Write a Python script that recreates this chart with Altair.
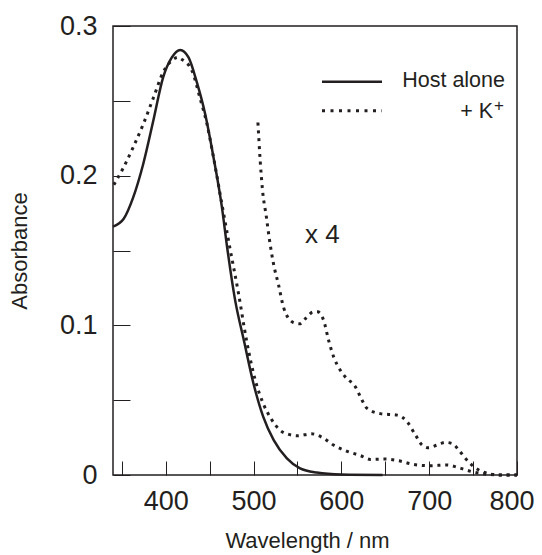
import altair as alt
import pandas as pd

# ---- data ----
host_wl = [340, 352, 363, 374.5, 386, 397, 407, 416.5, 426, 435, 445, 454.5, 464, 470,
           479, 489, 500, 511, 523, 538, 553, 572, 600, 647]
host_abs = [0.166, 0.171, 0.1855, 0.208, 0.237, 0.2655, 0.279, 0.284, 0.279, 0.2633, 0.241,
            0.212, 0.179, 0.152, 0.117, 0.09, 0.061, 0.039, 0.0233, 0.0111, 0.0044, 0.0016,
            0.0003, 0.0]

k_wl = [341, 352, 363, 374.5, 386, 397, 409, 413.5, 418, 430, 439, 447, 454.5, 464, 473, 483,
        492, 502, 511, 521, 530, 540, 550, 566, 580, 591, 606, 622, 633, 650, 667, 682, 701,
        720, 736, 749, 766, 785, 800]
k_abs = [0.194, 0.2055, 0.219, 0.2345, 0.252, 0.269, 0.2778, 0.279, 0.2778, 0.27, 0.252,
         0.2345, 0.212, 0.181, 0.152, 0.121, 0.09, 0.0633, 0.0478, 0.0367, 0.03, 0.0271,
         0.0262, 0.0275, 0.0245, 0.02, 0.016, 0.0129, 0.0104, 0.0107, 0.0093, 0.0071, 0.0062,
         0.0067, 0.0044, 0.0022, 0.0005, 0.0, 0.0]

k4_wl = [505, 507.6, 510.3, 514.5, 518.2, 522.8, 528.5, 534.2, 545, 552.5, 560, 568.4, 573,
         580, 585.5, 591.2, 598.8, 604.5, 616, 623.6, 629.3, 644.4, 663.5, 675, 684.4, 692,
         699.5, 709, 718.6, 726.2, 733.7, 741.4, 750.8, 764.2, 781, 800]
k4_abs = [0.2355, 0.21, 0.19, 0.173, 0.157, 0.141, 0.127, 0.112, 0.102, 0.101, 0.105, 0.109,
          0.109, 0.103, 0.09, 0.079, 0.07, 0.0655, 0.0589, 0.05, 0.0445, 0.041, 0.04, 0.0355,
          0.0267, 0.02, 0.0182, 0.02, 0.0218, 0.021, 0.0167, 0.011, 0.0055, 0.0015, 0.0, 0.0]

x_ticks = [350, 400, 450, 500, 550, 600, 650, 700, 750, 800]
y_ticks = [0, 0.05, 0.1, 0.15, 0.2, 0.25, 0.3]

legend_labels = ["Host alone", "+ K"]
annot = "x 4"

INK = "#231f20"
FONT = "Liberation Sans"

host_df = pd.DataFrame({"wl": host_wl, "A": host_abs})
k_df = pd.DataFrame({"wl": k_wl, "A": k_abs})
k4_df = pd.DataFrame({"wl": k4_wl, "A": k4_abs})
one = pd.DataFrame({"i": [0]})

xscale = alt.Scale(domain=[340, 800], nice=False, zero=False)
yscale = alt.Scale(domain=[0, 0.3], nice=False)

xaxis = alt.Axis(
    values=x_ticks, tickSize=14, offset=-14, domain=False, grid=False,
    tickColor=INK, tickWidth=1,
    labelExpr="datum.value % 100 == 0 ? format(datum.value, 'd') : ''",
    labelFont=FONT, labelFontSize=27, labelColor=INK, labelPadding=13,
    labelOffset={"condition": {"test": "datum.value == 800", "value": -5.5}, "value": 0},
    labelFlush=False, labelOverlap=False,
    title="Wavelength / nm", titleFont=FONT, titleFontSize=22, titleFontWeight="normal",
    titleColor=INK, titleX=194, titleY=86, titleBaseline="alphabetic", titleAlign="center",
)
yaxis = alt.Axis(
    values=y_ticks, tickSize=17, offset=-17, domain=False, grid=False,
    tickColor=INK, tickWidth=1,
    labelExpr="datum.value == 0 ? '0' : (abs(datum.value*10 - round(datum.value*10)) < 1e-6 ? format(datum.value, '.1f') : '')",
    labelFont=FONT, labelFontSize=27, labelColor=INK, labelPadding=16,
    labelFlush=False, labelOverlap=False,
    title="Absorbance", titleFont=FONT, titleFontSize=22, titleFontWeight="normal",
    titleColor=INK, titleX=-110.5, titleBaseline="middle", titleAlign="center",
)

host = alt.Chart(host_df).mark_line(color=INK, strokeWidth=2.5, interpolate="monotone").encode(
    x=alt.X("wl:Q", scale=xscale, axis=xaxis),
    y=alt.Y("A:Q", scale=yscale, axis=yaxis),
)
dot = dict(color=INK, strokeWidth=3, strokeDash=[3, 4.8], strokeCap="butt", interpolate="monotone")
kline = alt.Chart(k_df).mark_line(**dot).encode(x=alt.X("wl:Q", scale=xscale), y=alt.Y("A:Q", scale=yscale))
k4line = alt.Chart(k4_df).mark_line(**dot).encode(x=alt.X("wl:Q", scale=xscale), y=alt.Y("A:Q", scale=yscale))

# manual legend and annotation (single-row data so each is drawn once)
txt = dict(font=FONT, color=INK, fontWeight="normal")
leg_solid = alt.Chart(one).mark_rule(color=INK, strokeWidth=2.5).encode(
    x=alt.value(209), x2=alt.value(269), y=alt.value(55.7))
leg_dot = alt.Chart(one).mark_rule(color=INK, strokeWidth=3, strokeDash=[3, 5.5]).encode(
    x=alt.value(209), x2=alt.value(269), y=alt.value(84.7))
leg_t1 = alt.Chart(one).mark_text(fontSize=21.5, align="right", baseline="alphabetic", **txt).encode(
    x=alt.value(392), y=alt.value(61), text=alt.value(legend_labels[0]))
leg_t2 = alt.Chart(one).mark_text(fontSize=21.5, align="right", baseline="alphabetic", **txt).encode(
    x=alt.value(380), y=alt.value(92), text=alt.value(legend_labels[1]))
leg_sup = alt.Chart(one).mark_text(fontSize=17, align="left", baseline="middle", **txt).encode(
    x=alt.value(381), y=alt.value(80), text=alt.value("+"))
x4 = alt.Chart(one).mark_text(fontSize=26, align="left", baseline="alphabetic", **txt).encode(
    x=alt.value(192), y=alt.value(217), text=alt.value(annot))

chart = alt.layer(host, kline, k4line, leg_solid, leg_dot, leg_t1, leg_t2, leg_sup, x4).properties(
    width=404, height=449,
    autosize=alt.AutoSizeParams(type="none"),
    padding={"left": 105, "top": 18, "right": 17, "bottom": 90},
).configure_view(stroke=INK, strokeWidth=1.5)

chart.save("out.html", embed_options={"renderer": "svg", "actions": False})
